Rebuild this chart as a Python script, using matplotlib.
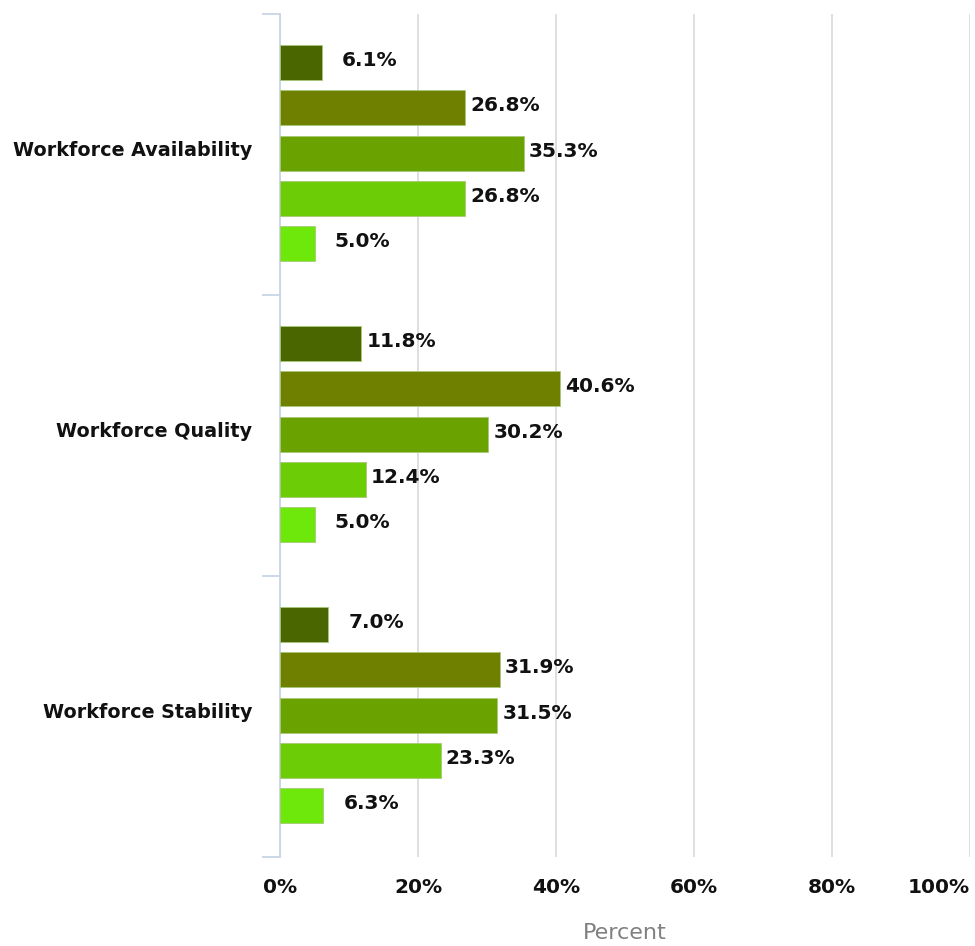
import numpy as np
import matplotlib
matplotlib.use("Agg")
import matplotlib.pyplot as plt

# data (top group first, bars top to bottom)
categories = ["Workforce Availability", "Workforce Quality", "Workforce Stability"]
values = [
    [6.1, 26.8, 35.3, 26.8, 5.0],
    [11.8, 40.6, 30.2, 12.4, 5.0],
    [7.0, 31.9, 31.5, 23.3, 6.3],
]
bar_colors = ["#4a6600", "#6f8000", "#6aa300", "#6ccc06", "#6ee80b"]
xticks = [0, 20, 40, 60, 80, 100]
xtick_labels = ["0%", "20%", "40%", "60%", "80%", "100%"]

fig = plt.figure(figsize=(9.75, 9.46), dpi=100)
ax = fig.add_axes([280 / 975, 1 - 857 / 946, 690 / 975, 843 / 946])

step = 0.1614
height = 0.1245
for g, vals in enumerate(values):
    for i, v in enumerate(vals):
        y = g + 0.495 + (i - 2) * step
        ax.barh(y, v, height=height, color=bar_colors[i], edgecolor="#a8c878",
                linewidth=0.6, zorder=3)
        # short bars get their label pushed out a bit further
        off = 20 if v < 10 else 5
        ax.annotate(f"{v:.1f}%", xy=(v, y), xytext=(off, 2), textcoords="offset pixels",
                    va="center", ha="left", fontsize=14.5, fontweight="bold",
                    color="#111111", zorder=4)

ax.set_xlim(0, 100)
ax.set_ylim(3, 0)

ax.set_xticks(xticks)
ax.set_xticklabels(xtick_labels, fontsize=14.5, fontweight="bold", color="#111111")
ax.get_xticklabels()[-1].set_horizontalalignment("right")
ax.tick_params(axis="x", length=0, pad=15)
ax.grid(axis="x", color="#dcdcdc", linewidth=1.3, zorder=0)

ax.set_yticks([0, 1, 2, 3])
ax.set_yticklabels([])
ax.tick_params(axis="y", which="major", length=13, color="#c8d4e6", width=1.3)
ax.set_yticks([0.48, 1.48, 2.48], minor=True)
ax.set_yticklabels(categories, minor=True, fontsize=13.8, fontweight="bold", color="#111111")
ax.tick_params(axis="y", which="minor", length=0, pad=20)

for s in ["top", "right", "bottom"]:
    ax.spines[s].set_visible(False)
ax.spines["left"].set_color("#c8d4e6")
ax.spines["left"].set_linewidth(1.3)

ax.set_xlabel("Percent", fontsize=16, color="#808080", labelpad=19)

fig.savefig("out.png", dpi=100)
